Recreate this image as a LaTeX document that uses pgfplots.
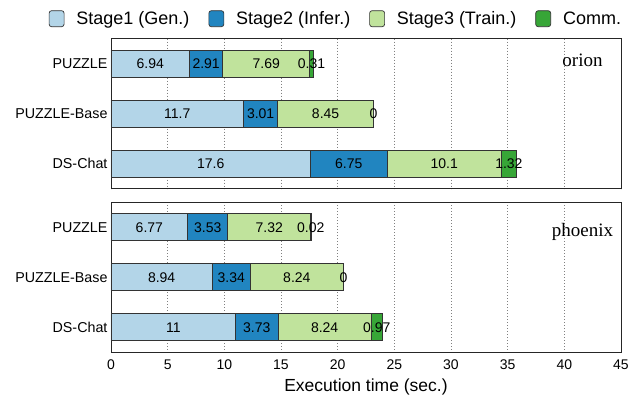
\documentclass[border=0pt]{standalone}
\usepackage{pgfplots}
\pgfplotsset{compat=1.18}
\usepackage{pgfplotstable}
\usepackage{fontspec}
\setmainfont{Liberation Sans}
\newfontfamily\seriffont{Liberation Serif}
\definecolor{cA}{HTML}{B3D5E8}
\definecolor{cB}{HTML}{2185C0}
\definecolor{cC}{HTML}{C0E39C}
\definecolor{cD}{HTML}{37A637}

% y: 0 = PUZZLE, 1 = PUZZLE-Base, 2 = DS-Chat
\pgfplotstableread{
y s1 s2 s3 c
0 6.94 2.91 7.69 0.31
1 11.7 3.01 8.45 0
2 17.6 6.75 10.1 1.32
}\orion
\pgfplotstableread{
y s1 s2 s3 c
0 6.77 3.53 7.32 0.02
1 8.94 3.34 8.24 0
2 11 3.73 8.24 0.97
}\phoenix

\pgfplotsset{
  geom/.style={
    scale only axis, width=510pt, height=150pt,
    xmin=0, xmax=45, ymin=-0.5, ymax=2.5, y dir=reverse,
  },
  common/.style={
    geom,
    xbar stacked, bar width=27pt,
    ytick={0,1,2}, yticklabels={PUZZLE,PUZZLE-Base,DS-Chat},
    xtick={0,5,...,45},
    xmajorgrids, grid style={dash pattern=on 0.8pt off 2.2pt, black!50, line width=0.6pt},
    major tick length=0pt,
    axis line style={black!85, line width=0.9pt},
    tick label style={font=\fontsize{14}{16}\selectfont},
    yticklabel style={font=\fontsize{14.3}{16}\selectfont},
    /pgf/number format/assume math mode=true,
  },
  labels/.style={
    geom, hide axis,
    point meta=explicit symbolic,
    nodes near coords={\pgfplotspointmeta},
    nodes near coords align={center},
    every node near coord/.append style={text=black, font=\fontsize{14}{16}\selectfont},
  },
  lab/.style={only marks, mark=*, mark size=0pt, mark options={draw=none, fill=none}},
  seg/.style={fill=#1, draw=black!80, line width=0.7pt},
}

\begin{document}
\begin{tikzpicture}
\useasboundingbox (-111pt,188.7pt) rectangle (530pt,-209.3pt);
% ---------- orion ----------
\begin{axis}[common, at={(0pt,0pt)}, anchor=south west,
  xticklabels={},
  legend columns=4,
  legend style={at={(0.441,1)}, anchor=center, yshift=20pt, draw=none, fill=none,
    font=\fontsize{18}{20}\selectfont,
    /tikz/every odd column/.append style={column sep=10pt},
    /tikz/every even column/.append style={column sep=17pt}},
  legend image code/.code={\draw[#1, rounded corners=2.5pt] (0pt,-8pt) rectangle (15pt,8pt);},
]
\addplot[seg=cA] table[x=s1, y=y] {\orion};
\addplot[seg=cB] table[x=s2, y=y] {\orion};
\addplot[seg=cC] table[x=s3, y=y] {\orion};
\addplot[seg=cD] table[x=c, y=y] {\orion};
\legend{Stage1 (Gen.), Stage2 (Infer.), Stage3 (Train.), Comm.}
\node[font=\seriffont\fontsize{19}{22}\selectfont, anchor=base, yshift=-27.7pt] at (rel axis cs:0.9245,1) {orion};
\end{axis}
\begin{axis}[labels, at={(0pt,0pt)}, anchor=south west]
\addplot[lab] table[x expr=\thisrow{s1}/2, y=y, meta=s1] {\orion};
\addplot[lab] table[x expr=\thisrow{s1}+\thisrow{s2}/2, y=y, meta=s2] {\orion};
\addplot[lab] table[x expr=\thisrow{s1}+\thisrow{s2}+\thisrow{s3}/2, y=y, meta=s3] {\orion};
\addplot[lab] table[x expr=\thisrow{s1}+\thisrow{s2}+\thisrow{s3}+\thisrow{c}/2, y=y, meta=c] {\orion};
\end{axis}
% ---------- phoenix ----------
\begin{axis}[common, at={(0pt,-13.6pt)}, anchor=north west,
  xticklabel style={yshift=-4pt},
  xlabel={Execution time (sec.)},
  xlabel style={font=\fontsize{17.5}{20}\selectfont, yshift=-2pt},
]
\addplot[seg=cA] table[x=s1, y=y] {\phoenix};
\addplot[seg=cB] table[x=s2, y=y] {\phoenix};
\addplot[seg=cC] table[x=s3, y=y] {\phoenix};
\addplot[seg=cD] table[x=c, y=y] {\phoenix};
\node[font=\seriffont\fontsize{19}{22}\selectfont, anchor=base, yshift=-34.4pt] at (rel axis cs:0.9245,1) {phoenix};
\end{axis}
\begin{axis}[labels, at={(0pt,-13.6pt)}, anchor=north west]
\addplot[lab] table[x expr=\thisrow{s1}/2, y=y, meta=s1] {\phoenix};
\addplot[lab] table[x expr=\thisrow{s1}+\thisrow{s2}/2, y=y, meta=s2] {\phoenix};
\addplot[lab] table[x expr=\thisrow{s1}+\thisrow{s2}+\thisrow{s3}/2, y=y, meta=s3] {\phoenix};
\addplot[lab] table[x expr=\thisrow{s1}+\thisrow{s2}+\thisrow{s3}+\thisrow{c}/2, y=y, meta=c] {\phoenix};
\end{axis}
\end{tikzpicture}
\end{document}
